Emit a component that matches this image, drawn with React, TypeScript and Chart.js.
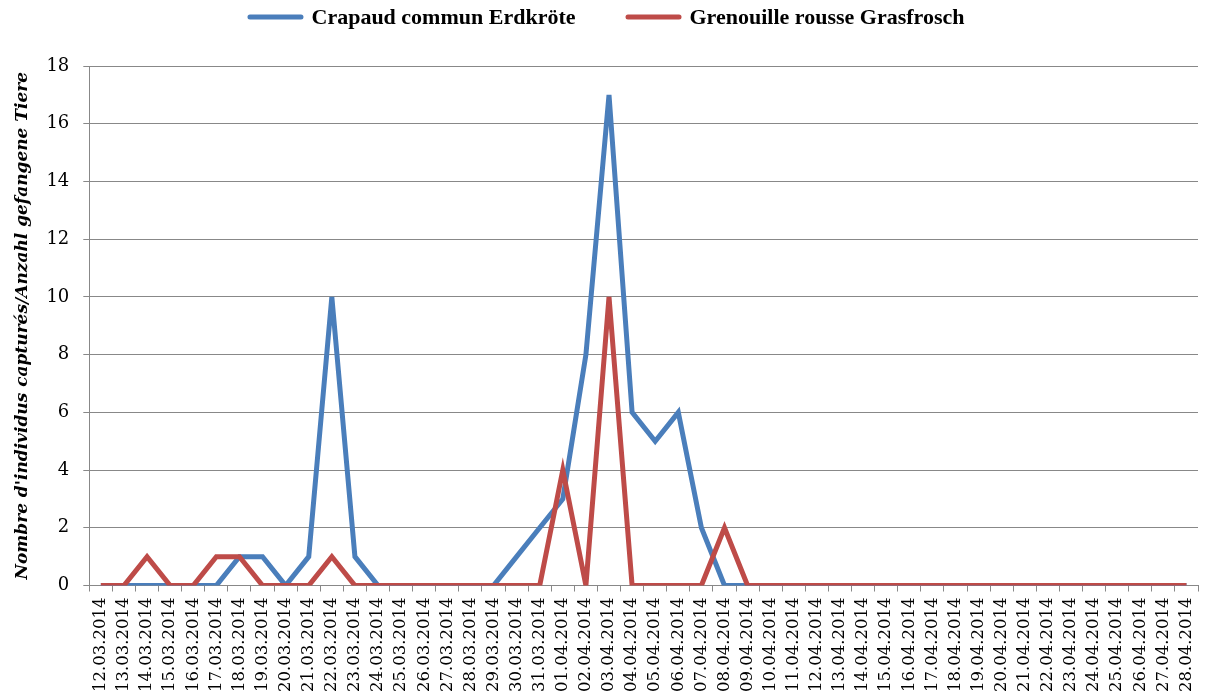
import { useEffect, useRef } from "react";
import { Chart, registerables } from "chart.js";

Chart.register(...registerables);

// Daily survey dates (12 March – 28 April 2014)
const dates: string[] = [
  "12.03.2014", "13.03.2014", "14.03.2014", "15.03.2014", "16.03.2014", "17.03.2014",
  "18.03.2014", "19.03.2014", "20.03.2014", "21.03.2014", "22.03.2014", "23.03.2014",
  "24.03.2014", "25.03.2014", "26.03.2014", "27.03.2014", "28.03.2014", "29.03.2014",
  "30.03.2014", "31.03.2014", "01.04.2014", "02.04.2014", "03.04.2014", "04.04.2014",
  "05.04.2014", "06.04.2014", "07.04.2014", "08.04.2014", "09.04.2014", "10.04.2014",
  "11.04.2014", "12.04.2014", "13.04.2014", "14.04.2014", "15.04.2014", "16.04.2014",
  "17.04.2014", "18.04.2014", "19.04.2014", "20.04.2014", "21.04.2014", "22.04.2014",
  "23.04.2014", "24.04.2014", "25.04.2014", "26.04.2014", "27.04.2014", "28.04.2014",
];

// Common toad (Bufo bufo) captures per day
const toadCounts: number[] = [
  0, 0, 0, 0, 0, 0, 1, 1, 0, 1, 10, 1,
  0, 0, 0, 0, 0, 0, 1, 2, 3, 8, 17, 6,
  5, 6, 2, 0, 0, 0, 0, 0, 0, 0, 0, 0,
  0, 0, 0, 0, 0, 0, 0, 0, 0, 0, 0, 0,
];

// Common frog (Rana temporaria) captures per day
const frogCounts: number[] = [
  0, 0, 1, 0, 0, 1, 1, 0, 0, 0, 1, 0,
  0, 0, 0, 0, 0, 0, 0, 0, 4, 0, 10, 0,
  0, 0, 0, 2, 0, 0, 0, 0, 0, 0, 0, 0,
  0, 0, 0, 0, 0, 0, 0, 0, 0, 0, 0, 0,
];

const seriesNames: string[] = ["Crapaud commun Erdkröte", "Grenouille rousse Grasfrosch"];
const seriesColors: string[] = ["#4A7EBB", "#BE4B48"];

const yMin = 0;
const yMax = 18;
const yStep = 2;
const yTitle = "Nombre d'individus capturés/Anzahl gefangene Tiere";

const GRID = "#888888";

// Key drawn above the plot: short line sample followed by the series name
const keyPlugin = {
  id: "seriesKey",
  afterDraw(chart: Chart) {
    const { ctx } = chart;
    const sampleLen = 56;
    const sampleGap = 8;
    const itemGap = 50;
    const centerX = 606;
    const y = 17;
    ctx.save();
    ctx.font = "bold 22px 'Liberation Serif'";
    const items = [...chart.data.datasets].sort((a, b) => (b.order ?? 0) - (a.order ?? 0));
    const widths = items.map((d) => ctx.measureText(String(d.label)).width);
    const total =
      widths.reduce((a, w) => a + sampleLen + sampleGap + w, 0) + itemGap * (widths.length - 1);
    let x = centerX - total / 2;
    items.forEach((d, i) => {
      ctx.strokeStyle = String(d.borderColor);
      ctx.lineWidth = 5;
      ctx.lineCap = "round";
      ctx.beginPath();
      ctx.moveTo(x + 2.5, y);
      ctx.lineTo(x + sampleLen - 2.5, y);
      ctx.stroke();
      x += sampleLen + sampleGap;
      ctx.fillStyle = "#000";
      ctx.textBaseline = "middle";
      ctx.textAlign = "left";
      ctx.fillText(String(d.label), x, y + 1);
      x += widths[i] + itemGap;
    });
    ctx.restore();
  },
};

export default function App() {
  const canvasRef = useRef<HTMLCanvasElement | null>(null);

  useEffect(() => {
    document.body.style.margin = "0";
    const canvas = canvasRef.current;
    if (!canvas) return;
    const chart = new Chart(canvas, {
      type: "line",
      data: {
        labels: dates,
        datasets: [
          {
            label: seriesNames[0],
            data: toadCounts,
            borderColor: seriesColors[0],
            backgroundColor: seriesColors[0],
            borderWidth: 5,
            pointRadius: 0,
            tension: 0,
            order: 1,
          },
          {
            label: seriesNames[1],
            data: frogCounts,
            borderColor: seriesColors[1],
            backgroundColor: seriesColors[1],
            borderWidth: 5,
            pointRadius: 0,
            tension: 0,
            order: 0,
          },
        ],
      },
      options: {
        responsive: false,
        animation: false,
        devicePixelRatio: 1,
        layout: { padding: { top: 66, right: 8, left: 12, bottom: 0 } },
        plugins: {
          legend: { display: false },
          tooltip: { enabled: false },
        },
        scales: {
          x: {
            offset: true,
            afterFit(scale: any) {
              // keep the plot edge close to the canvas edge despite the rotated labels
              scale.paddingLeft = 0;
              scale.paddingRight = 0;
            },
            grid: {
              offset: true,
              drawOnChartArea: false,
              drawTicks: true,
              tickLength: 6,
              color: GRID,
            },
            border: { color: GRID, width: 1 },
            ticks: {
              autoSkip: false,
              maxRotation: 90,
              minRotation: 90,
              color: "#000",
              padding: 6,
              font: { family: "'DejaVu Serif'", size: 16.5 },
            },
          },
          y: {
            min: yMin,
            max: yMax,
            ticks: {
              stepSize: yStep,
              color: "#000",
              padding: 14,
              font: { family: "'DejaVu Serif'", size: 18 },
            },
            grid: { color: GRID, tickLength: 6 },
            border: { color: GRID, width: 1 },
            title: {
              display: true,
              text: yTitle,
              color: "#000",
              padding: { top: 0, bottom: 0 },
              font: { family: "'DejaVu Serif'", size: 17, weight: "bold", style: "italic" },
            },
          },
        },
      },
      plugins: [keyPlugin],
    });
    return () => chart.destroy();
  }, []);

  return (
    <canvas
      ref={canvasRef}
      width={1206}
      height={698}
      style={{ display: "block", position: "absolute", left: 0, top: 0 }}
    />
  );
}
